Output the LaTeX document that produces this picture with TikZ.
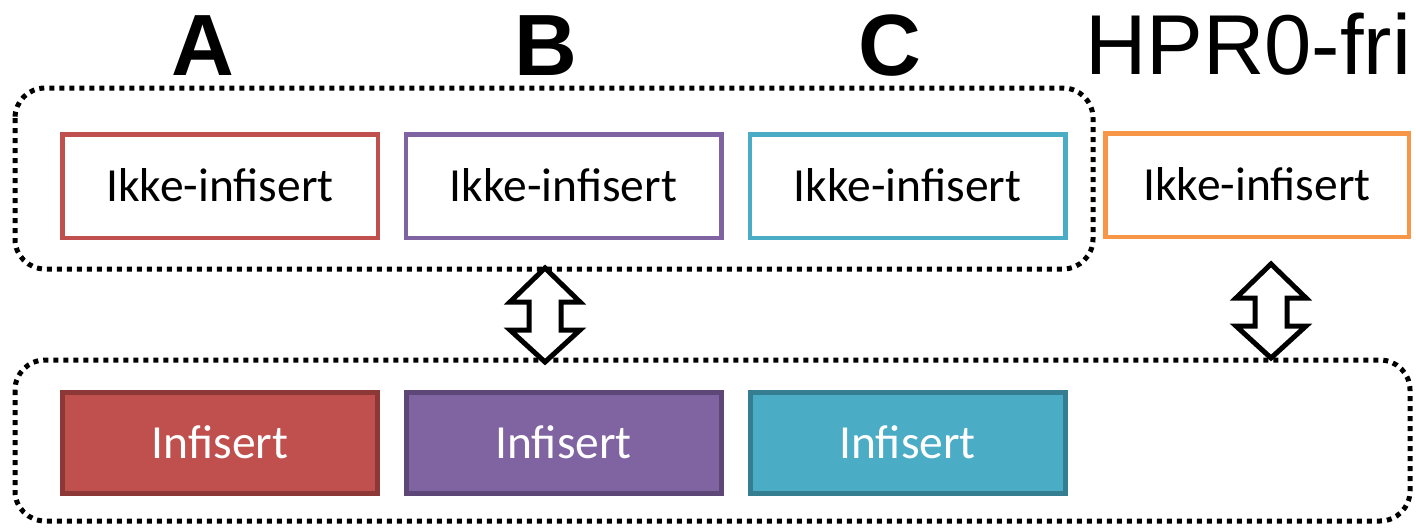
\documentclass[tikz,border=0pt]{standalone}
\usepackage{fontspec}
\setmainfont{Carlito}
\newfontfamily\labelfont{Liberation Sans}
\definecolor{cred}{HTML}{C0504D}
\definecolor{credd}{HTML}{8C3836}
\definecolor{cpur}{HTML}{8064A2}
\definecolor{cpurd}{HTML}{5C4776}
\definecolor{ccyan}{HTML}{4BACC6}
\definecolor{ccyand}{HTML}{357D91}
\definecolor{corange}{HTML}{F79646}
\tikzset{
  outlinebox/.style={draw, line width=4.5pt, fill=white, minimum width=315.5pt,
    minimum height=103.5pt, inner sep=0pt, text height=30pt, text depth=0pt,
    font=\fontsize{47.5}{50}\selectfont},
  filledbox/.style={line width=5pt, minimum width=315pt, minimum height=101pt,
    inner sep=0pt, text=white, text height=31pt, text depth=0pt,
    font=\fontsize{47.5}{50}\selectfont},
  grouplabel/.style={anchor=base, inner sep=0pt, font=\labelfont\bfseries\fontsize{87}{90}\selectfont},
  groupframe/.style={line width=5pt, dash pattern=on 5pt off 5pt, rounded corners=30pt},
  updown/.pic={
    \draw[line width=5pt, fill=white, line join=miter]
      (0,-47) -- (35,-13) -- (16,-13) -- (16,15) -- (35,15) -- (0,47)
      -- (-35,15) -- (-16,15) -- (-16,-13) -- (-35,-13) -- cycle;
  }
}
\begin{document}
\begin{tikzpicture}[x=1pt,y=-1pt]
\useasboundingbox (0,0) rectangle (1416,528);

% group frames
\draw[groupframe] (15,88) rectangle (1093,269);
\draw[groupframe] (15,360) rectangle (1410,521);

% column labels
\node[grouplabel] (lA) at (203,75) {A};
\node[grouplabel] (lB) at (546,75) {B};
\node[grouplabel] (lC) at (890,75) {C};
\node[anchor=base west, inner sep=0pt, font=\labelfont\fontsize{85}{88}\selectfont] (lH) at (1085,74) {HPR0-fri};

% non-infected states
\node[outlinebox, draw=cred] (nA) at (220,186) {Ikke-infisert};
\node[outlinebox, draw=cpur] (nB) at (563.5,186) {Ikke-infisert};
\node[outlinebox, draw=ccyan] (nC) at (907.5,186) {Ikke-infisert};
\node[outlinebox, draw=corange, minimum width=303.5pt] (nH) at (1257,185) {Ikke-infisert};

% infected states
\node[filledbox, fill=cred, draw=credd] (iA) at (220,443) {Infisert};
\node[filledbox, fill=cpur, draw=cpurd] (iB) at (563.5,443) {Infisert};
\node[filledbox, fill=ccyan, draw=ccyand] (iC) at (907.5,443) {Infisert};

% transitions between the two groups
\pic at (545,315) {updown};
\pic at (1271,311) {updown};
\end{tikzpicture}
\end{document}
